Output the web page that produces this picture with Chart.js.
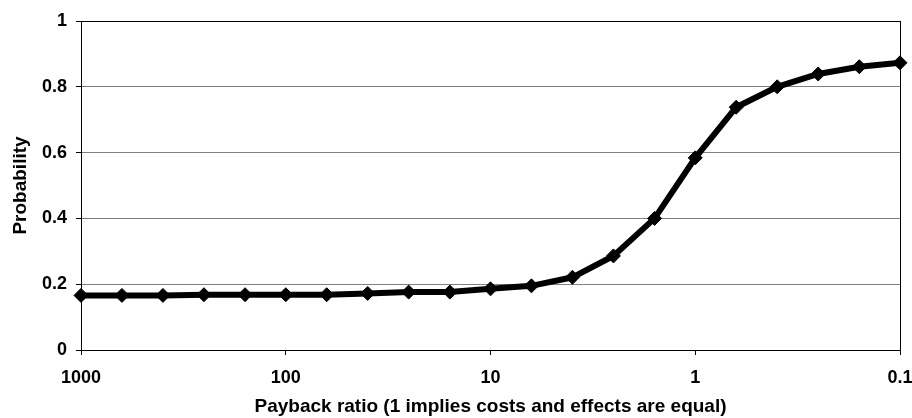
<!DOCTYPE html>
<html>
<head>
<meta charset="utf-8">
<script src="https://cdn.jsdelivr.net/npm/chart.js@4"></script>
<style>
  body { margin: 0; background: #fff; }
  #wrap { width: 912px; height: 418px; }
</style>
</head>
<body>
<div id="wrap"><canvas id="paybackChart"></canvas></div>
<script>
// payback ratios, five per decade
const paybackRatios = [1000, 631, 398, 251, 158, 100, 63.1, 39.8, 25.1, 15.8, 10,
  6.31, 3.98, 2.51, 1.58, 1, 0.631, 0.398, 0.251, 0.158, 0.1];
const probabilities = [0.166, 0.166, 0.166, 0.168, 0.168, 0.168, 0.168, 0.172, 0.176, 0.176, 0.186,
  0.195, 0.221, 0.286, 0.400, 0.584, 0.738, 0.800, 0.839, 0.861, 0.873];
const xTickValues = [0.1, 1, 10, 100, 1000];
const xTickLabels = ["0.1", "1", "10", "100", "1000"];

const tickFont = { family: "Liberation Sans, Arial, sans-serif", size: 18, weight: "bold" };
const titleFont = { family: "Liberation Sans, Arial, sans-serif", size: 19, weight: "bold" };

function buildPoints() {
  const pts = [];
  for (let i = 0; i < paybackRatios.length; i++) {
    pts.push({ x: paybackRatios[i], y: probabilities[i] });
  }
  return pts;
}

// outline round the plot area, drawn before the line so markers sit on top
const plotBox = {
  id: "plotBox",
  beforeDatasetsDraw(chart) {
    const a = chart.chartArea;
    const ctx = chart.ctx;
    ctx.save();
    ctx.strokeStyle = "#000";
    ctx.lineWidth = 1;
    ctx.strokeRect(a.left + 0.5, a.top + 0.5, a.right - a.left, a.bottom - a.top);
    ctx.restore();
  }
};

new Chart(document.getElementById("paybackChart"), {
  type: "line",
  data: {
    datasets: [{
      label: "Probability",
      data: buildPoints(),
      borderColor: "#000",
      backgroundColor: "#000",
      borderWidth: 6,
      pointStyle: "rectRot",
      pointRadius: 7,
      pointBorderWidth: 1,
      pointBackgroundColor: "#000",
      pointBorderColor: "#000",
      tension: 0,
      clip: false
    }]
  },
  options: {
    responsive: true,
    maintainAspectRatio: false,
    animation: false,
    layout: { padding: { top: 21, right: 12, bottom: 0, left: 0 } },
    plugins: {
      legend: { display: false },
      tooltip: { enabled: false }
    },
    scales: {
      x: {
        type: "logarithmic",
        reverse: true,
        min: 0.1,
        max: 1000,
        afterBuildTicks: (scale) => {
          scale.ticks = xTickValues.map(v => ({ value: v }));
        },
        afterFit: (scale) => {
          scale.height = 68;
          scale.paddingLeft = 0;
          scale.paddingRight = 0;
        },
        ticks: {
          autoSkip: false,
          maxRotation: 0,
          color: "#000",
          font: tickFont,
          padding: 12,
          callback: (value) => {
            const idx = xTickValues.indexOf(value);
            return idx >= 0 ? xTickLabels[idx] : "";
          }
        },
        grid: {
          drawOnChartArea: false,
          drawTicks: true,
          tickLength: 5,
          color: "#000"
        },
        border: { color: "#000", width: 1 },
        title: {
          display: true,
          text: "Payback ratio (1 implies costs and effects are equal)",
          color: "#000",
          font: titleFont,
          padding: { top: 0, bottom: 0 }
        }
      },
      y: {
        min: 0,
        max: 1,
        afterFit: (scale) => { scale.width = 81; },
        ticks: {
          stepSize: 0.2,
          color: "#000",
          font: tickFont,
          padding: 9,
          callback: (value) => String(Number(value.toFixed(1)))
        },
        grid: {
          color: "#808080",
          tickColor: "#000",
          tickLength: 5
        },
        border: { color: "#000", width: 1 },
        title: {
          display: true,
          text: "Probability",
          color: "#000",
          font: titleFont,
          padding: { top: 9, bottom: 0 }
        }
      }
    }
  },
  plugins: [plotBox]
});
</script>
</body>
</html>
